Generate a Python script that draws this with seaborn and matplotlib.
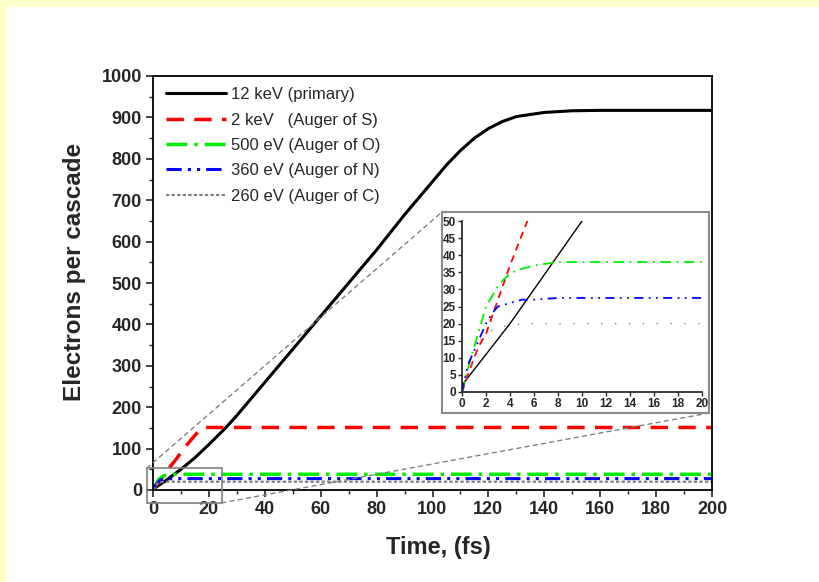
import numpy as np
import matplotlib
matplotlib.use("Agg")
import matplotlib.pyplot as plt
import seaborn as sns
from matplotlib.patches import Rectangle

# DATA

series_labels = ['12 keV (primary)', '2 keV   (Auger of S)', '500 eV (Auger of O)',
                 '360 eV (Auger of N)', '260 eV (Auger of C)']

t_primary = [0, 1, 2, 3, 4, 5, 6, 7, 8, 9, 10, 15, 20, 26, 30, 40, 50, 60, 70, 80, 90, 100,
             105, 110, 115, 120, 125, 130, 140, 150, 160, 180, 200]
n_primary = [2, 6.5, 11, 15.5, 20, 25, 30, 35, 40, 45, 50, 78, 110, 150, 180, 260, 340, 420,
             500, 580, 665, 745, 785, 820, 850, 873, 890, 902, 912, 916, 917, 917, 917]

t_s = [0, 0.5, 1, 1.5, 2, 2.5, 3, 3.5, 4, 5, 6, 8, 10, 12, 14, 16, 18, 200]
n_s = [0, 5, 10, 14, 17, 22, 27, 32, 37, 46, 55, 72, 90, 108, 124, 140, 151, 151]

t_o = [0, 0.5, 1, 1.5, 2, 2.5, 3, 3.5, 4, 4.5, 5, 6, 8, 10, 200]
n_o = [0, 7, 13, 19, 25, 28, 31, 33, 34.5, 35.5, 36, 37, 38, 38, 38]

t_n = [0, 0.5, 1, 1.5, 2, 2.5, 3, 4, 4.5, 5, 6, 8, 10, 200]
n_n = [0, 8, 12, 16, 20, 23, 25, 26, 26.5, 27, 27, 27.5, 27.5, 27.5]

t_c = [0, 0.5, 1, 1.5, 2, 3, 4, 5, 8, 200]
n_c = [0, 5, 10, 15, 17, 19, 19.5, 20, 20, 20]

colors = ['black', '#ff0000', '#00ee00', '#0000ff', '#808080']
styles = ['-', (0, (5, 3)), (0, (6, 2, 1, 2)), (0, (5, 2, 1, 2, 1, 2)), (0, (1.5, 1))]
widths = [2.2, 2.5, 2.5, 2.2, 1.6]

sns.set_theme(style="ticks")
plt.rcParams['font.family'] = ['Liberation Sans', 'DejaVu Sans']

fig = plt.figure(figsize=(8.19, 5.82), dpi=100)
fig.patch.set_facecolor('#ffffcc')
fig.patches.append(Rectangle((7 / 819, 0), 1, 1 - 7 / 582, transform=fig.transFigure,
                             facecolor='white', edgecolor='none', zorder=-10))

ax = fig.add_axes([153 / 819, 1 - 490 / 582, (712 - 153) / 819, (490 - 76) / 582])
ax.set_facecolor('white')

all_series = [(t_primary, n_primary), (t_s, n_s), (t_o, n_o), (t_n, n_n), (t_c, n_c)]
for (tt, nn), lab, c, ls, lw in zip(all_series, series_labels, colors, styles, widths):
    sns.lineplot(x=tt, y=nn, ax=ax, color=c, linestyle=ls, linewidth=lw, label=lab,
                 sort=False, estimator=None)

ax.set_xlim(0, 200)
ax.set_ylim(0, 1000)
ax.set_xticks(np.arange(0, 201, 20))
ax.set_xticks(np.arange(10, 200, 20), minor=True)
ax.set_yticks(np.arange(0, 1001, 100))
ax.set_yticks(np.arange(50, 1000, 100), minor=True)
ax.tick_params(which='major', direction='out', length=5, width=1.2, labelsize=13, pad=3)
ax.tick_params(which='minor', direction='out', length=3, width=1.0)
for lbl in ax.get_xticklabels() + ax.get_yticklabels():
    lbl.set_fontweight('bold')
for sp in ax.spines.values():
    sp.set_linewidth(1.3)
    sp.set_color('black')
ax.set_xlabel('Time, (fs)', fontsize=17, fontweight='bold')
ax.set_ylabel('Electrons per cascade', fontsize=17.5, fontweight='bold')
ax.xaxis.set_label_coords(0.51, -0.11)
ax.yaxis.set_label_coords(-0.12, 0.527)

leg = ax.legend(loc='upper left', bbox_to_anchor=(0.0, 1.005), frameon=False, fontsize=12,
                handlelength=3.6, handletextpad=0.3, labelspacing=0.62, borderaxespad=0.4)

# zoom box around the origin and connector lines to the inset
box = Rectangle((-2.2, -31), 26.8, 84, fill=False, edgecolor='#808080', linewidth=1.2,
                clip_on=False, zorder=5)
ax.add_patch(box)

# inset frame
frame = Rectangle((442 / 819, 1 - 413 / 582), 267 / 819, 201 / 582, transform=fig.transFigure,
                  facecolor='white', edgecolor='#8a8a8a', linewidth=1.5, zorder=3)
fig.patches.append(frame)

for start, end in [((-2.2, 53), (442 / 819, 1 - 212 / 582)),
                   ((24.6, -31), (709 / 819, 1 - 413 / 582))]:
    ax.annotate('', xy=end, xycoords='figure fraction', xytext=start, textcoords='data',
                arrowprops=dict(arrowstyle='-', color='#808080', linestyle=(0, (3, 3)),
                                linewidth=1, shrinkA=0, shrinkB=0))

ins = fig.add_axes([462 / 819, 1 - 392 / 582, 240 / 819, 171 / 582], zorder=4)
ins.set_facecolor('none')
in_styles = ['-', (0, (4, 3)), (0, (6, 3, 1, 3)), (0, (5, 3, 1, 3, 1, 3)), (0, (1, 9))]
in_widths = [1.0, 1.3, 1.3, 1.3, 1.0]
for (tt, nn), c, ls, lw in zip(all_series, colors, in_styles, in_widths):
    sns.lineplot(x=tt, y=nn, ax=ins, color=c, linestyle=ls, linewidth=lw,
                 sort=False, estimator=None)
ins.set_xlim(0, 20)
ins.set_ylim(0, 50)
ins.set_xticks(np.arange(0, 21, 2))
ins.set_yticks(np.arange(0, 51, 5))
ins.tick_params(direction='out', length=3, width=1, labelsize=8.5, pad=1.5)
for lbl in ins.get_xticklabels() + ins.get_yticklabels():
    lbl.set_fontweight('bold')
ins.spines['top'].set_visible(False)
ins.spines['right'].set_visible(False)
ins.set_xlabel('')
ins.set_ylabel('')

fig.savefig('out.png', dpi=100, facecolor=fig.get_facecolor())
